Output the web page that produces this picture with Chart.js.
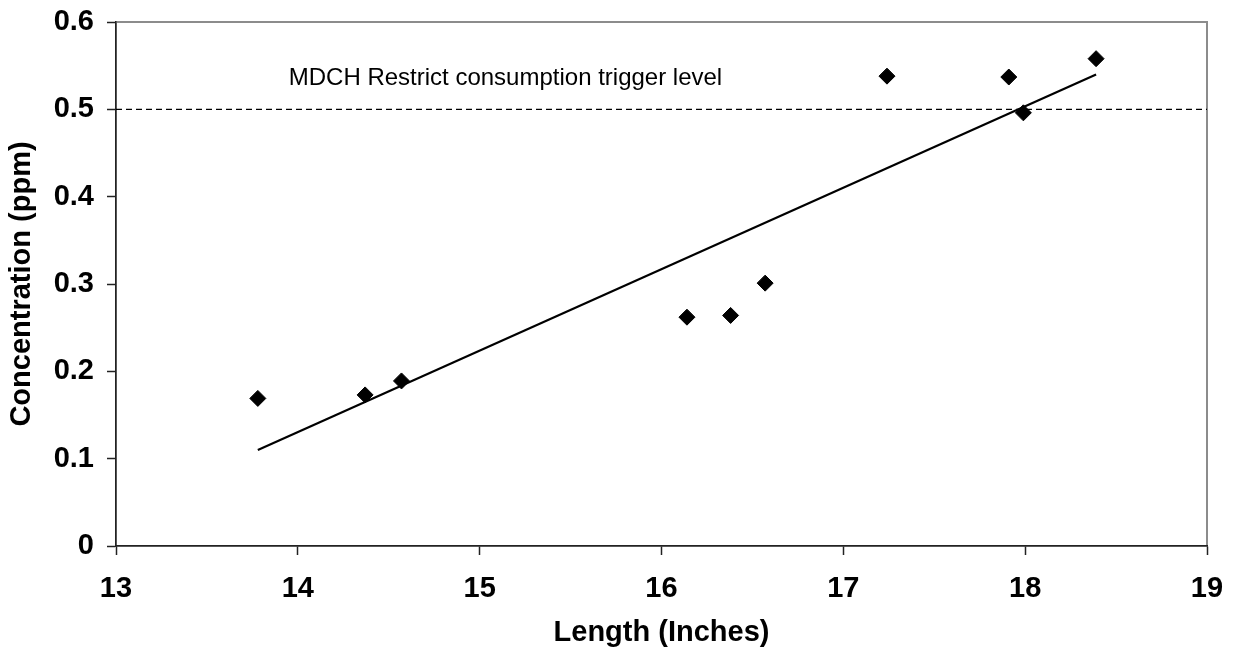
<!DOCTYPE html>
<html>
<head>
<meta charset="utf-8">
<title>Concentration vs Length</title>
<script src="https://cdn.jsdelivr.net/npm/chart.js@4.4.1/dist/chart.umd.min.js"></script>
<style>
  html, body { margin: 0; padding: 0; background: #fff; }
  #wrap { width: 1236px; height: 655px; }
</style>
</head>
<body>
<div id="wrap"><canvas id="chart"></canvas></div>
<script>
// --- DATA ---
const lengths = [13.78, 14.37, 14.57, 16.14, 16.38, 16.57, 17.24, 17.91, 17.99, 18.39];
const concentrations = [0.169, 0.173, 0.189, 0.262, 0.264, 0.301, 0.538, 0.537, 0.496, 0.558];

// linear trend line, read at both ends
const trendX = [13.78, 18.39];
const trendY = [0.110, 0.540];

// MDCH trigger level
const triggerLevel = 0.5;
const triggerX = [13, 19];
const triggerLabel = 'MDCH Restrict consumption trigger level';

const xTickLabels = ['13', '14', '15', '16', '17', '18', '19'];
const yTickLabels = ['0', '0.1', '0.2', '0.3', '0.4', '0.5', '0.6'];

// --- STYLE ---
const FONT = "'Liberation Sans', Arial, sans-serif";
const BOLD = { family: FONT, size: 29, weight: 'bold' };
const AXIS_COLOR = '#222';
const FRAME_COLOR = '#8c8c8c';

const toPoints = (xs, ys) => xs.map((x, i) => ({ x: x, y: ys[i] }));

// gray frame of the plot area (top/right visible, left/bottom covered by the axes)
const frame = {
    id: 'frame',
    beforeDraw(chart) {
        const { ctx, chartArea: a } = chart;
        ctx.save();
        ctx.strokeStyle = FRAME_COLOR;
        ctx.lineWidth = 2;
        ctx.strokeRect(a.left, a.top, a.right - a.left, a.bottom - a.top);
        ctx.restore();
    }
};

// text above the dashed trigger line
const triggerText = {
    id: 'triggerText',
    afterDatasetsDraw(chart) {
        const { ctx, scales } = chart;
        ctx.save();
        ctx.font = '24px ' + FONT;
        ctx.fillStyle = '#000';
        ctx.textAlign = 'left';
        ctx.textBaseline = 'alphabetic';
        ctx.fillText(triggerLabel, scales.x.getPixelForValue(13.95), scales.y.getPixelForValue(0.528));
        ctx.restore();
    }
};

new Chart(document.getElementById('chart'), {
    type: 'scatter',
    data: {
        datasets: [
            {
                label: 'Samples',
                data: toPoints(lengths, concentrations),
                pointStyle: 'rectRot',
                pointRadius: 8,
                pointBorderWidth: 1,
                backgroundColor: '#000',
                borderColor: '#000'
            },
            {
                label: 'Trend',
                data: toPoints(trendX, trendY),
                showLine: true,
                pointRadius: 0,
                borderColor: '#000',
                borderWidth: 2.2
            },
            {
                label: 'Trigger level',
                data: toPoints(triggerX, triggerX.map(() => triggerLevel)),
                showLine: true,
                pointRadius: 0,
                borderColor: '#000',
                borderWidth: 1.2,
                borderDash: [6, 4]
            }
        ]
    },
    options: {
        responsive: true,
        maintainAspectRatio: false,
        animation: false,
        layout: { padding: { top: 22, right: 29, left: 0, bottom: 0 } },
        plugins: {
            legend: { display: false },
            tooltip: { enabled: false }
        },
        scales: {
            x: {
                type: 'linear',
                min: 13,
                max: 19,
                afterFit: (scale) => {
                    scale.height = 109;
                    // drop the auto padding so the layout padding decides the plot edges
                    scale.paddingLeft = 0;
                    scale.paddingRight = 0;
                },
                afterBuildTicks: (scale) => {
                    scale.ticks = xTickLabels.map(t => ({ value: Number(t) }));
                },
                ticks: {
                    callback: (value, index) => xTickLabels[index],
                    color: '#000',
                    padding: 17,
                    maxRotation: 0,
                    font: BOLD
                },
                grid: {
                    drawOnChartArea: false,
                    tickLength: 9,
                    tickColor: AXIS_COLOR,
                    tickWidth: 1.5
                },
                border: { color: AXIS_COLOR, width: 1.5 },
                title: {
                    display: true,
                    text: 'Length (Inches)',
                    color: '#000',
                    padding: { top: 0, bottom: 5 },
                    font: BOLD
                }
            },
            y: {
                type: 'linear',
                min: 0,
                max: 0.6,
                afterFit: (scale) => {
                    scale.width = 116;
                    scale.paddingTop = 0;
                    scale.paddingBottom = 0;
                },
                afterBuildTicks: (scale) => {
                    scale.ticks = yTickLabels.map(t => ({ value: Number(t) }));
                },
                ticks: {
                    callback: (value, index) => yTickLabels[index],
                    color: '#000',
                    padding: 13,
                    font: BOLD
                },
                grid: {
                    drawOnChartArea: false,
                    tickLength: 9,
                    tickColor: AXIS_COLOR,
                    tickWidth: 1.5
                },
                border: { color: AXIS_COLOR, width: 1.5 },
                title: {
                    display: true,
                    text: 'Concentration (ppm)',
                    color: '#000',
                    padding: { top: 5, bottom: 0 },
                    font: BOLD
                }
            }
        }
    },
    plugins: [frame, triggerText]
});
</script>
</body>
</html>
